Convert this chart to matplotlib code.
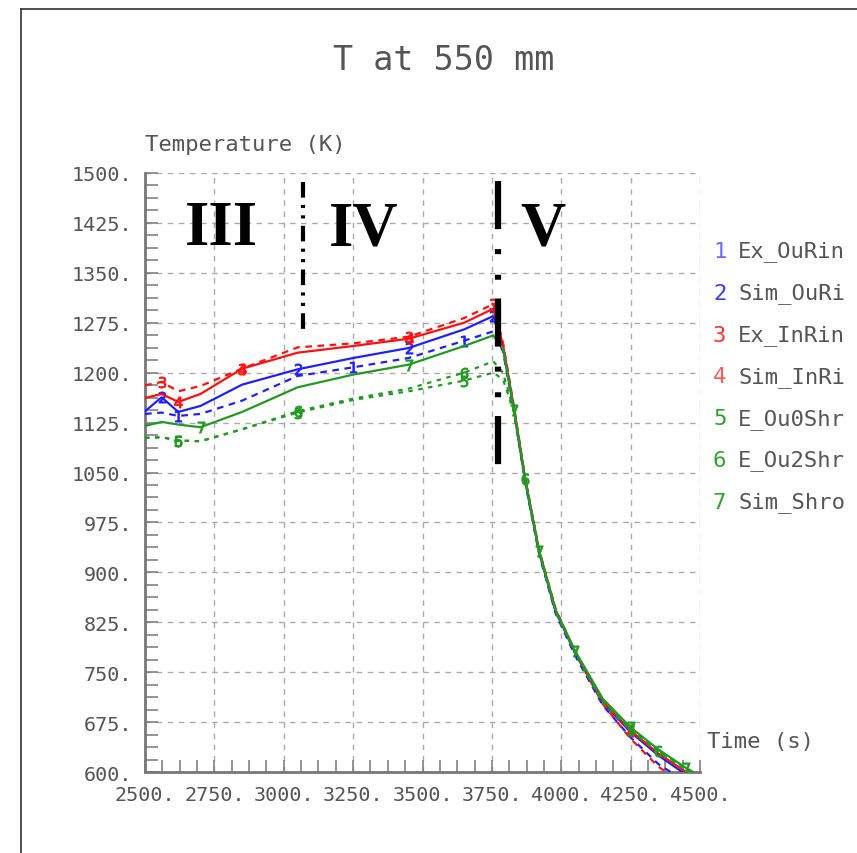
import matplotlib
matplotlib.use('Agg')
import matplotlib.pyplot as plt
from matplotlib.ticker import MultipleLocator

plt.rcParams['font.family'] = ['DejaVu Sans Mono', 'DejaVu Sans']

# time grid (s) and temperatures (K)
t = [2500, 2560, 2620, 2700, 2850, 3050, 3250, 3450, 3650, 3755, 3790,
     3830, 3870, 3920, 3980, 4050, 4150, 4250, 4350, 4450, 4550]

ex_ourin = [1138, 1140, 1135, 1138, 1158, 1195, 1208, 1222, 1248, 1262, 1232,
            1140, 1035, 928, 838, 775, 700, 652, 612, 585, 560]
sim_ouri = [1142, 1163, 1141, 1150, 1182, 1205, 1222, 1237, 1265, 1285, 1238,
            1143, 1038, 930, 841, 779, 704, 660, 625, 596, 570]
ex_inrin = [1181, 1186, 1172, 1180, 1206, 1238, 1244, 1254, 1282, 1303, 1245,
            1148, 1042, 934, 845, 780, 702, 650, 608, 580, 555]
sim_inri = [1162, 1168, 1156, 1168, 1206, 1230, 1240, 1251, 1275, 1296, 1242,
            1146, 1040, 933, 843, 781, 706, 662, 628, 600, 575]
e_ou0shr = [1102, 1103, 1098, 1097, 1115, 1140, 1159, 1172, 1188, 1200, 1190,
            1140, 1038, 930, 840, 778, 704, 663, 630, 603, 578]
e_ou2shr = [1102, 1103, 1098, 1097, 1115, 1142, 1161, 1176, 1200, 1217, 1200,
            1142, 1040, 932, 842, 780, 706, 665, 632, 605, 580]
sim_shro = [1120, 1126, 1122, 1118, 1141, 1178, 1197, 1212, 1240, 1256, 1236,
            1144, 1040, 932, 843, 782, 710, 667, 634, 606, 582]

names = ['Ex_OuRin', 'Sim_OuRi', 'Ex_InRin', 'Sim_InRi', 'E_Ou0Shr', 'E_Ou2Shr', 'Sim_Shro']
series = [ex_ourin, sim_ouri, ex_inrin, sim_inri, e_ou0shr, e_ou2shr, sim_shro]
colors = ['#2020ff', '#2020ff', '#ff1010', '#ff1010', '#229922', '#229922', '#229922']
legend_colors = ['#6a6aff', '#3a3aff', '#ff3030', '#ff5a5a', '#30a030', '#30a030', '#30a030']
styles = [(0, (3, 2.5)), '-', (0, (3, 2.5)), '-', (0, (2, 2.5)), (0, (2, 2.5)), '-']
label_idx = [[2, 6, 8], [1, 5, 7, 9], [1, 4, 7, 9], [2, 4, 7, 17], [2, 5, 8, 17],
             [2, 5, 8, 12, 18], [3, 7, 11, 13, 15, 17, 19]]

# phase boundaries (s, K)
bound_x = [3069, 3772]
bound_top = [1486, 1488]
bound_bot = [1266, 1040]
phase_names = ['III', 'IV', 'V']
phase_x = [2644, 3163, 3852]
phase_y = 1393

fig = plt.figure(figsize=(8.57, 8.54), dpi=100)
ax = fig.add_axes([0.1692, 0.0948, 0.6476, 0.7015])

for i in range(len(series)):
    ax.plot(t, series[i], color=colors[i], linestyle=styles[i], linewidth=1.6,
            marker='$%d$' % (i + 1), markevery=label_idx[i], markersize=8,
            markeredgewidth=0.6, zorder=3)

# dash-dot boundary lines
ax.plot([bound_x[0]] * 2, [bound_top[0], bound_bot[0]], color='black', linewidth=3,
        dashes=(3.75, 1.75, 0.75, 1.75, 0.75, 1.75), zorder=4)
ax.plot([bound_x[1]] * 2, [bound_top[1], bound_bot[1]], color='black', linewidth=4.5,
        dashes=(7.7, 3.2, 0.8, 3.3, 0.8, 3.0), zorder=4)

for name, px in zip(phase_names, phase_x):
    ax.text(px, phase_y, name, family='Liberation Serif', fontweight='bold',
            fontsize=45, va='baseline', ha='left', color='black', zorder=5)

ax.set_xlim(2500, 4500)
ax.set_ylim(600, 1500)
ax.xaxis.set_major_locator(MultipleLocator(250))
ax.xaxis.set_minor_locator(MultipleLocator(62.5))
ax.yaxis.set_major_locator(MultipleLocator(75))
ax.yaxis.set_minor_locator(MultipleLocator(18.75))
ax.xaxis.set_major_formatter(plt.FuncFormatter(lambda v, p: '%d.' % v))
ax.yaxis.set_major_formatter(plt.FuncFormatter(lambda v, p: '%d.' % v))

ax.tick_params(which='both', direction='in', length=9, width=1.1, color='#777777',
               top=False, right=False)
ax.tick_params(axis='both', which='major', labelsize=14.5, labelcolor='#555555')
ax.tick_params(axis='x', pad=9)
ax.tick_params(axis='y', pad=9)

ax.grid(True, which='major', color='#aaaaaa', linestyle=(0, (4, 4)), linewidth=1.0)
for side in ['top', 'right']:
    ax.spines[side].set_visible(False)
for side in ['left', 'bottom']:
    ax.spines[side].set_color('#777777')
    ax.spines[side].set_linewidth(2)

W, H = 857.0, 854.0
fig.text(444 / W, 1 - 60 / H, 'T at 550 mm', fontsize=24, color='#555555',
         ha='center', va='center')
fig.text(145 / W, 1 - 145 / H, 'Temperature (K)', fontsize=16, color='#555555',
         ha='left', va='center')
fig.text(707 / W, 1 - 742 / H, 'Time (s)', fontsize=16, color='#555555',
         ha='left', va='center')

for i, name in enumerate(names):
    y = 1 - (252 + 41.8 * i) / H
    fig.text(713 / W, y, str(i + 1), fontsize=16, color=legend_colors[i], ha='left', va='center')
    fig.text(738 / W, y, name, fontsize=16, color='#555555', ha='left', va='center')

# outer frame (top and left only)
fig.add_artist(plt.Line2D([21 / W, 1], [1 - 10 / H, 1 - 10 / H], color='#333333', linewidth=1.2))
fig.add_artist(plt.Line2D([21 / W, 21 / W], [0, 1 - 10 / H], color='#333333', linewidth=1.2))

fig.savefig('out.png', dpi=100)
